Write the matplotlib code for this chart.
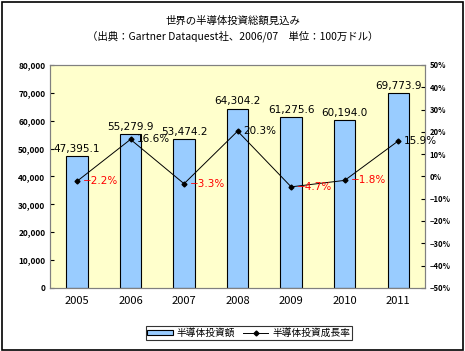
import numpy as np
import matplotlib.pyplot as plt
from matplotlib.patches import Rectangle
from matplotlib.ticker import FuncFormatter

plt.rcParams['font.family'] = ['Noto Sans CJK JP', 'DejaVu Sans']

# --- data ---
years = ['2005', '2006', '2007', '2008', '2009', '2010', '2011']
invest = [47395.1, 55279.9, 53474.2, 64304.2, 61275.6, 60194.0, 69773.9]
growth = [-2.2, 16.6, -3.3, 20.3, -4.7, -1.8, 15.9]

fig = plt.figure(figsize=(4.65, 3.51), dpi=100)
# outer frame of the chart
fig.patches.append(Rectangle((0.004, 0.004), 0.992, 0.99, transform=fig.transFigure,
                             fill=False, edgecolor='black', linewidth=1.2))

ax = fig.add_axes([0.108, 0.18, 0.806, 0.635])
ax.set_facecolor('#FFFFCC')
x = np.arange(len(years))

ax.bar(x, invest, width=0.4, color='#99CCFF', edgecolor='black', linewidth=0.8,
       label='半導体投資額', zorder=2)
for xi, v in zip(x, invest):
    ax.text(xi, v + 800, f'{v:,.1f}', ha='center', va='bottom', fontsize=7.5,
            family=['DejaVu Sans'], color='black')

ax.set_xlim(-0.5, len(years) - 0.5)
ax.set_ylim(0, 80000)
ax.set_yticks(np.arange(0, 80001, 10000))
ax.yaxis.set_major_formatter(FuncFormatter(lambda v, p: f'{int(v):,}'))
ax.set_xticks(x)
ax.set_xticklabels(years, fontsize=8)
ax.tick_params(axis='x', length=0, pad=6)
ax.tick_params(axis='y', labelsize=6, direction='in', length=3)
for lab in ax.get_yticklabels():
    lab.set_fontweight('bold')
for s in ax.spines.values():
    s.set_color('#808080')
    s.set_linewidth(0.8)

ax2 = ax.twinx()
ax2.plot(x, growth, color='black', linewidth=0.7, marker='D', markersize=2.5,
         label='半導体投資成長率', zorder=3)
for xi, g in zip(x, growth):
    ax2.text(xi + 0.11, g, f'{g:.1f}%'.replace('-', '\u2212'), ha='left', va='center',
             fontsize=7.5, family=['DejaVu Sans'], color='red' if g < 0 else 'black')
ax2.set_ylim(-50, 50)
ax2.set_yticks(np.arange(-50, 51, 10))
ax2.yaxis.set_major_formatter(FuncFormatter(lambda v, p: f'{int(v)}%'.replace('-', '\u2212')))
ax2.tick_params(axis='y', labelsize=5.5, direction='in', length=3)
for lab in ax2.get_yticklabels():
    lab.set_fontweight('bold')
for s in ax2.spines.values():
    s.set_color('#808080')
    s.set_linewidth(0.8)

fig.text(0.5, 0.94, '世界の半導体投資総額見込み', ha='center', va='center', fontsize=7.5)
fig.text(0.5, 0.898, '（出典：Gartner Dataquest社、2006/07　単位：100万ドル）',
         ha='center', va='center', fontsize=7.5)

h1, l1 = ax.get_legend_handles_labels()
h2, l2 = ax2.get_legend_handles_labels()
leg = fig.legend(h1 + h2, l1 + l2, loc='center', bbox_to_anchor=(0.535, 0.052), ncol=2,
                 fontsize=7, frameon=True, fancybox=False, handlelength=2.6,
                 handleheight=0.5, columnspacing=0.8, handletextpad=0.4,
                 borderpad=0.2)
leg.get_frame().set_edgecolor('black')
leg.get_frame().set_linewidth(0.8)

fig.savefig('out.png', dpi=100)
